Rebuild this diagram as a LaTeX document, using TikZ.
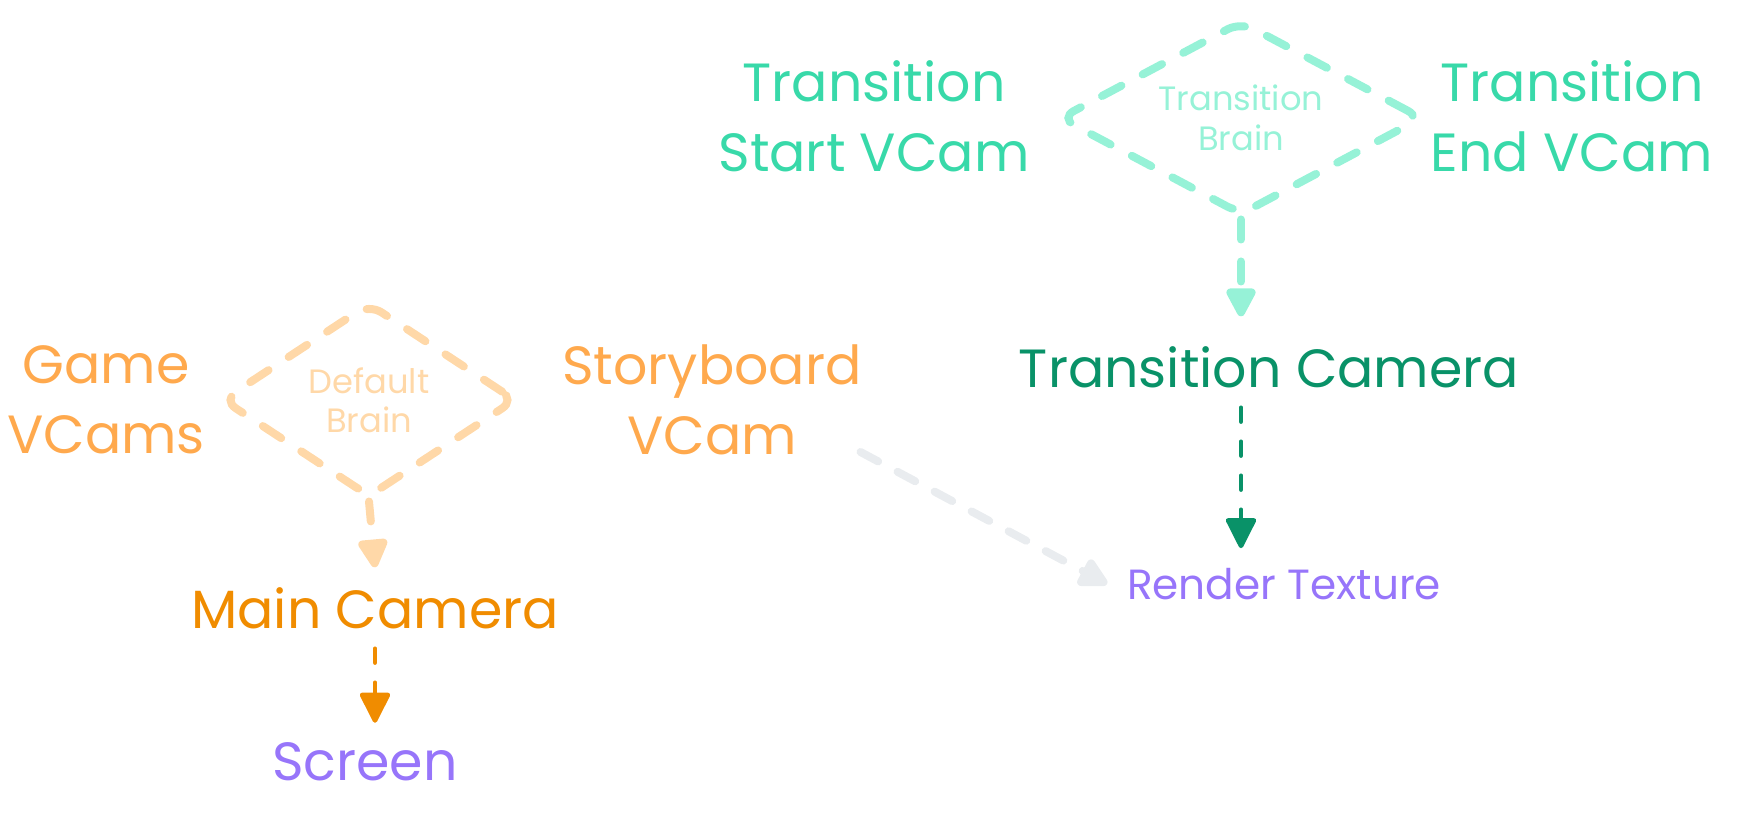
\documentclass[tikz,border=0pt]{standalone}
\usepackage{fontspec}
\setmainfont{Poppins}
\usetikzlibrary{shapes.geometric,arrows.meta}
\definecolor{vcamorange}{HTML}{FFA94D}
\definecolor{brainorange}{HTML}{FFD8A8}
\definecolor{camorange}{HTML}{F08C00}
\definecolor{vcamteal}{HTML}{38D9A9}
\definecolor{brainteal}{HTML}{96F2D7}
\definecolor{camteal}{HTML}{099268}
\definecolor{outviolet}{HTML}{9775FA}
\definecolor{linkgrey}{HTML}{E9ECEF}
\begin{document}
\begin{tikzpicture}[
  big/.style={align=center,inner sep=0.2cm,outer sep=0pt,font=\fontsize{15.3}{20}\selectfont},
  brain/.style={diamond,aspect=1.5,align=center,line width=0.08cm,line cap=round,rounded corners=0.15cm,
    dash pattern=on 0.22cm off 0.24cm,inner sep=0pt,font=\fontsize{9.6}{11.2}\selectfont},
  thickdash/.style={line width=0.08cm,line cap=round,dash pattern=on 0.2cm off 0.22cm},
  thindash/.style={line width=0.045cm,line cap=round,dash pattern=on 0.14cm off 0.2cm},
  tip/.style={-{Triangle[length=0.33cm,width=0.32cm,round]}}
]
\useasboundingbox (0,0) rectangle (17.6,8.2);
\node[big,text=vcamorange] (game) at (1.06,4.20) {Game\\VCams};
\node[brain,draw=brainorange,text=brainorange,minimum width=2.95cm,minimum height=1.95cm] (dbrain) at (3.69,4.20) {Default\\Brain};
\node[big,text=vcamorange] (sbvcam) at (7.12,4.20) {Storyboard\\VCam};
\node[big,text=camorange] (maincam) at (3.75,2.12) {Main Camera};
\node[big,text=outviolet] (screen) at (3.65,0.58) {Screen};
\node[big,text=vcamteal] (tstart) at (8.74,7.04) {Transition\\Start VCam};
\node[brain,draw=brainteal,text=brainteal,minimum width=3.64cm,minimum height=1.95cm] (tbrain) at (12.41,7.02) {Transition\\Brain};
\node[big,text=vcamteal] (tend) at (15.72,7.04) {Transition\\End VCam};
\node[big,text=camteal] (tcam) at (12.69,4.53) {Transition Camera};
\node[big,text=outviolet,font=\fontsize{12}{14}\selectfont] (rtex) at (12.84,2.36) {Render Texture};
\draw[thickdash,tip,brainorange] (dbrain.south) -- (maincam.north);
\draw[thindash,tip,camorange] (maincam.south) -- (maincam.south |- screen.north);
\draw[thickdash,tip,brainteal,shorten >=0.1cm] (tbrain.south) -- (tbrain.south |- tcam.north);
\draw[thindash,tip,camteal] (tcam.south -| tbrain.south) -- (tbrain.south |- rtex.north);
\draw[thickdash,tip,linkgrey,shorten <=0.1cm] ([xshift=-0.3cm,yshift=0.28cm]sbvcam.south east) -- (rtex.west);
\end{tikzpicture}
\end{document}
